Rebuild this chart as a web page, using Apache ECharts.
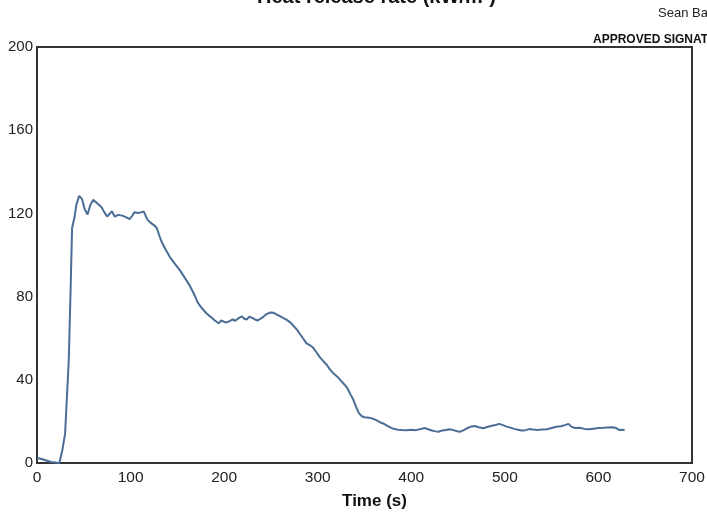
<!DOCTYPE html>
<html>
<head>
<meta charset="utf-8">
<script src="https://cdn.jsdelivr.net/npm/echarts@6/dist/echarts.min.js"></script>
<style>
html,body{margin:0;padding:0;background:#fff;}
#chart{width:707px;height:513px;}
</style>
</head>
<body>
<div id="chart"></div>
<script>
const titleText = "Heat release rate (kW/m²)";
const authorText = "Sean Ba";
const approvedText = "APPROVED SIGNAT";
const xAxisName = "Time (s)";
const xTicks = [0, 100, 200, 300, 400, 500, 600, 700];
const yTicks = [0, 40, 80, 120, 160, 200];

const times = [0,5,10,15,20,24,27,30,32,34,36,37.5,40,42,45,48,51,54,57,60,64,69,72,75,78,80,83,87,92,96,99,102,104,108,111,114,118,122,126,128,131,133,137,142,147,153,158,163,168,172,176,181,185,190,194,197,199,202,206,209,212,215,219,221,224,227,230,233,236,238,241,245,249,253,256,260,264,267,271,274,278,281,285,288,292,295,299,302,306,310,313,317,321,324,328,331,335,338,341,344,347,350,355,359,363,367,370,374,378,382,386,390,395,400,405,410,414,418,422,426,429,433,437,441,445,449,452,456,460,464,468,472,477,481,486,490,494,498,502,506,510,514,518,522,526,530,535,540,545,550,555,560,564,568,571,575,580,585,590,595,600,605,610,615,619,622,625,628];
const hrr = [2.4,1.9,1.2,0.5,0.2,0,6,14,32,50,85,113,118,124,128.4,127,122,119.5,124,126.5,125,123,120.5,118.5,120,121,118.5,119.3,118.8,118,117.2,119,120.5,120.2,120.5,121,117,115.3,114,113,109,106.5,103,99,96,92.5,89,85.5,81,77,74.5,72,70.5,68.5,67.2,68.5,68,67.5,68.2,69,68.4,69.5,70.5,69.5,69,70.3,69.8,69,68.5,68.3,70,71.5,72.3,72.2,71.5,70.5,69.5,68.8,67.5,66,64,62,59.5,57.5,56.5,55.5,53,51,49,47,45,43,41.5,40,38,36.5,33,30.5,27,24,22.5,22,21.8,21.3,20.5,19.5,19,18,17,16.3,16,15.9,15.8,16,15.8,16.3,16.8,16.2,15.6,15.2,15,15.6,15.9,16.2,15.8,15.3,15,15.8,16.8,17.5,17.8,17.2,16.7,17.3,17.9,18.3,18.8,18.2,17.5,17,16.4,16,15.6,15.8,16.3,16.1,15.9,16.1,16.2,16.8,17.4,17.7,18.2,18.8,17.5,16.8,16.9,16.4,16.2,16.5,16.8,16.9,17.1,17.2,16.8,15.9,16,15.8];

const seriesData = times.map((t, i) => [t, hrr[i]]);
const font = "'Liberation Sans', Arial, sans-serif";

const chart = echarts.init(document.getElementById('chart'), null, {renderer: 'canvas'});
chart.setOption({
  animation: false,
  backgroundColor: '#ffffff',
  grid: {left: 37, right: 15, top: 47, bottom: 50, outerBoundsMode: 'none', containLabel: false, show: true, borderColor: '#333333', borderWidth: 2, backgroundColor: 'transparent'},
  graphic: [
    {type: 'text', left: 257, top: -13, style: {text: titleText, font: "bold 20px " + font, fill: '#111'}},
    {type: 'text', left: 658, top: 7, style: {text: authorText, font: "13px " + font, fill: '#222'}},
    {type: 'text', left: 593, top: 34, style: {text: approvedText, font: "bold 12px " + font, fill: '#111'}}
  ],
  xAxis: {
    type: 'value', min: xTicks[0], max: xTicks[xTicks.length - 1], interval: 100,
    name: xAxisName, nameLocation: 'middle', nameGap: 30,
    nameTextStyle: {fontFamily: font, fontWeight: 'bold', fontSize: 17, color: '#111', padding: [0, 0, 0, 20]},
    axisLine: {show: true, lineStyle: {color: '#333333', width: 2}},
    axisTick: {show: false},
    splitLine: {show: false},
    axisLabel: {fontFamily: font, fontSize: 15.5, color: '#222', margin: 7}
  },
  yAxis: {
    type: 'value', min: yTicks[0], max: yTicks[yTicks.length - 1], interval: 40,
    axisLine: {show: true, lineStyle: {color: '#333333', width: 2}},
    axisTick: {show: false},
    splitLine: {show: false},
    axisLabel: {fontFamily: font, fontSize: 15, color: '#222', margin: 4}
  },
  series: [{
    type: 'line', data: seriesData, showSymbol: false, smooth: false,
    lineStyle: {color: '#4a6d96', width: 2}
  }]
});
</script>
</body>
</html>
